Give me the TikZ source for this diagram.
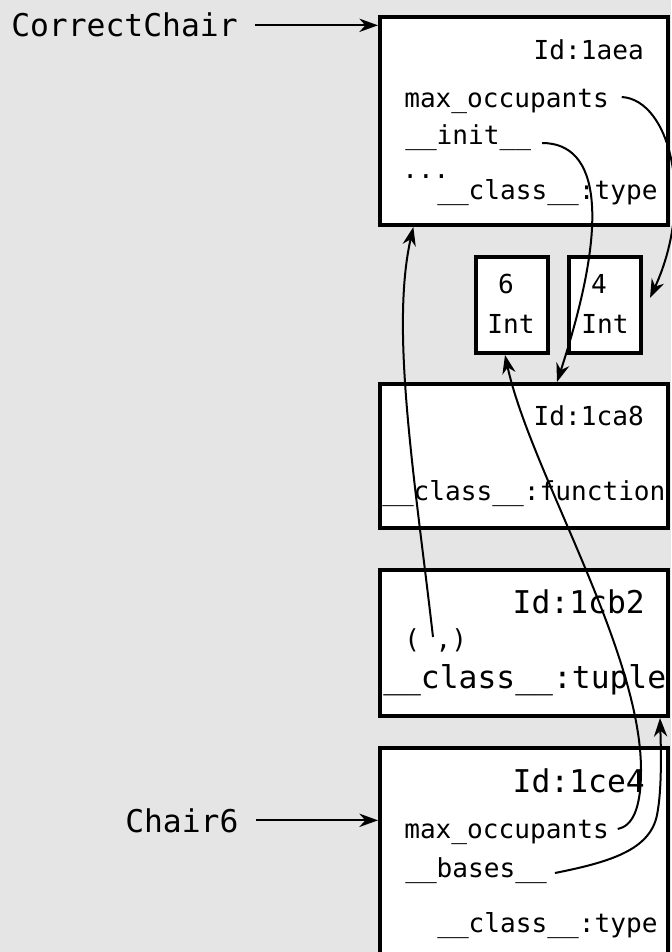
\documentclass[tikz,border=0pt]{standalone}
\usepackage{fontspec}
\setmonofont{DejaVu Sans Mono}
\usetikzlibrary{arrows.meta}
\definecolor{bgc}{RGB}{229,229,229}
\begin{document}
\begin{tikzpicture}[x=0.75pt,y=-0.75pt,
  box/.style={draw, fill=white, line width=3pt, inner sep=0pt},
  sm/.style={font=\ttfamily\fontsize{19.6pt}{22pt}\selectfont, inner sep=0pt},
  lg/.style={font=\ttfamily\fontsize{23.5pt}{26pt}\selectfont, inner sep=0pt},
  ptr/.style={-{Stealth[length=14pt,width=10pt,inset=4.5pt]}, line width=1.5pt},
]
\useasboundingbox[fill=bgc] (0,0) rectangle (671,952);
% boxes
\node[box, minimum width=216pt, minimum height=156pt] (aea) at (524,121) {};
\node[box, minimum width=54pt, minimum height=72pt] (int6) at (512,305) {};
\node[box, minimum width=54pt, minimum height=72pt] (int4) at (605,305) {};
\node[box, minimum width=216pt, minimum height=108pt] (ca8) at (524,456) {};
\node[box, minimum width=216pt, minimum height=109.5pt] (cb2) at (524,643) {};
\node[box, minimum width=216pt, minimum height=195pt] (ce4) at (524,878) {};
% texts
\node[sm, anchor=base east] (aeaid) at (644,60) {Id:1aea};
\node[sm, anchor=base west] (m1) at (404,108) {max\_occupants};
\node[sm, anchor=base west] (i1) at (405,145) {\_\_init\_\_};
\node[sm, anchor=base west] (dots) at (402,179) {...};
\node[sm, anchor=base west] (c1) at (437,200) {\_\_class\_\_:type};
\node[sm, anchor=base] (n6) at (506,293) {6};
\node[sm, anchor=base] (t6) at (511,333) {Int};
\node[sm, anchor=base] (n4) at (599,293) {4};
\node[sm, anchor=base] (t4) at (605,333) {Int};
\node[sm, anchor=base east] (caid) at (644,425) {Id:1ca8};
\node[sm, anchor=base west] (c2) at (382,500) {\_\_class\_\_:function};
\node[lg, anchor=base east] (cbid) at (645,613) {Id:1cb2};
\node[sm, anchor=base west] (tp) at (404,648) {( ,)};
\node[lg, anchor=base west] (c3) at (383,688) {\_\_class\_\_:tuple};
\node[lg, anchor=base east] (ceid) at (645,792) {Id:1ce4};
\node[sm, anchor=base west] (m2) at (404,838) {max\_occupants};
\node[sm, anchor=base west] (b2) at (405,877) {\_\_bases\_\_};
\node[sm, anchor=base west] (c4) at (437,932) {\_\_class\_\_:type};
\node[lg, anchor=base west] (cc) at (11,37) {CorrectChair};
\node[lg, anchor=base west] (ch) at (125,832) {Chair6};
% connectors
\draw[ptr] ([xshift=12.75pt]cc.east) -- (cc.east -| aea.west);
\draw[ptr] ([xshift=12.75pt]ch.east) -- (ch.east -| ce4.west);
\draw[ptr] ([xshift=9.5pt,yshift=8.25pt]m1.base east) .. controls (670,100) and (695,200) .. ([xshift=5.25pt,yshift=5.25pt]int4.east);
\draw[ptr] ([xshift=8pt,yshift=1.5pt]i1.base east) .. controls (600,143) and (610,220) .. ([xshift=24.75pt]ca8.north);
\draw[ptr] ([xshift=21.75pt,yshift=8.25pt]tp.base west) .. controls (415,480) and (390,330) .. ([xshift=-83pt]aea.south);
\draw[ptr] ([xshift=6.5pt,yshift=6.75pt]m2.base east) .. controls (632,826) and (641,810) .. (641,770) .. controls (641,650) and (530,470) .. ([xshift=-5.25pt]int6.south);
\draw[ptr] ([xshift=5.85pt,yshift=3pt]b2.base east) .. controls (610,862) and (650,850) .. (657,815) .. controls (662,790) and (661,750) .. ([xshift=-7.5pt]cb2.south east);
\end{tikzpicture}
\end{document}
